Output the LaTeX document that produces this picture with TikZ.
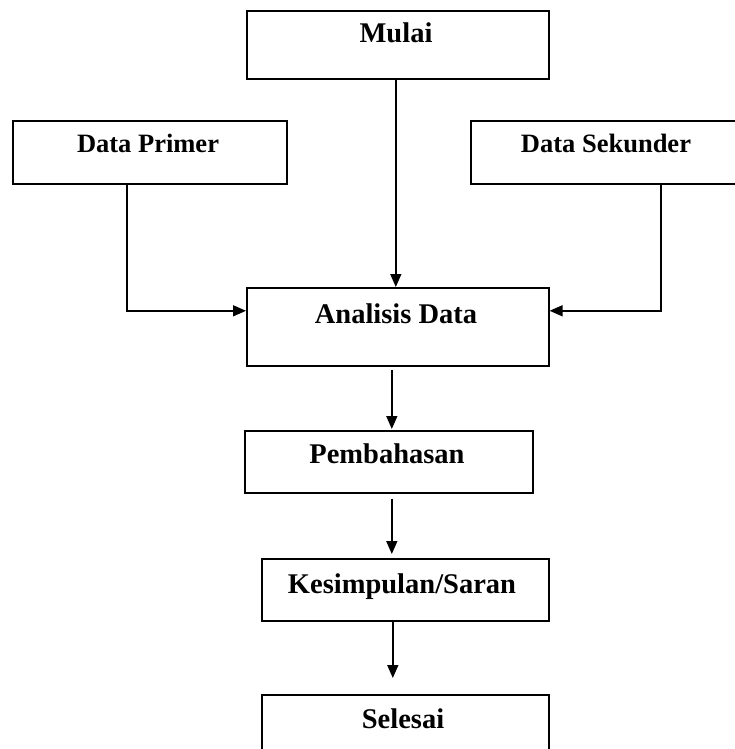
\documentclass[tikz,border=0pt]{standalone}
\usepackage{fontspec}
\setmainfont{Liberation Serif}
\usetikzlibrary{arrows.meta}
\begin{document}
\begin{tikzpicture}[x=1pt,y=-1pt,
  box/.style={draw,line width=1.6pt,inner sep=0pt,anchor=north west},
  lbl/.style={anchor=base,inner sep=0pt,font=\fontsize{28.5}{30}\selectfont\bfseries},
  slbl/.style={anchor=base,inner sep=0pt,font=\fontsize{26.5}{28}\selectfont\bfseries},
  arr/.style={line width=1.5pt,-{Triangle[length=13pt,width=11pt]}}]
\useasboundingbox (0,0) rectangle (734,749);
% boxes
\node[box,minimum width=302pt,minimum height=68pt] (mulai) at (246,10) {};
\node[box,minimum width=274pt,minimum height=63pt] (primer) at (12,120) {};
\node[box,minimum width=270pt,minimum height=63pt] (sekunder) at (470,120) {};
\node[box,minimum width=302pt,minimum height=78pt] (analisis) at (246,287) {};
\node[box,minimum width=288pt,minimum height=62pt] (pemb) at (244,430) {};
\node[box,minimum width=287pt,minimum height=62pt] (kesim) at (261,558) {};
\node[box,minimum width=287pt,minimum height=70pt] (selesai) at (261,694) {};
% texts
\node[lbl] (mulaiT) at (396,43) {Mulai};
\node[slbl] (primerT) at (148,152) {Data Primer};
\node[slbl] (sekT) at (606,152) {Data Sekunder};
\node[lbl] (anT) at (396,323) {Analisis Data};
\node[lbl] (pembT) at (387,463) {Pembahasan};
\node[lbl] (kesT) at (402,593) {Kesimpulan/Saran};
\node[lbl] (selT) at (403,728) {Selesai};
% connectors
\draw[arr] ([xshift=-2pt]mulai.south) -- ([xshift=-2pt]analisis.north);
\draw[arr] ([xshift=-23pt]primer.south) |- ([yshift=16pt]analisis.west);
\draw[arr] ([xshift=55pt]sekunder.south) |- ([yshift=16pt]analisis.east);
\coordinate (a1) at ([xshift=-6pt,yshift=-3pt]analisis.south);
\draw[arr,shorten >=1pt] (a1) -- (a1 |- pemb.north);
\coordinate (a2) at ([xshift=3pt,yshift=-5pt]pemb.south);
\draw[arr,shorten >=4pt] (a2) -- (a2 |- kesim.north);
\coordinate (a3) at ([xshift=-12.5pt]kesim.south);
\draw[arr,shorten >=16pt] (a3) -- (a3 |- selesai.north);
\end{tikzpicture}
\end{document}
